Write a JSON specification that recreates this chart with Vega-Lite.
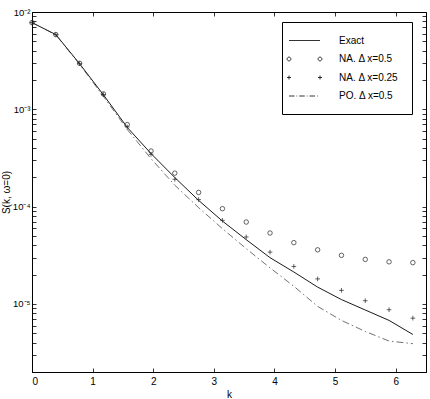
{
 "$schema": "https://vega.github.io/schema/vega-lite/v6.json",
 "width": 394, "height": 360,
 "autosize": {"type": "none"},
 "padding": {"left": 32, "top": 12, "right": 4, "bottom": 27},
 "config": {
  "font": "Liberation Sans",
  "view": {"stroke": "black", "strokeWidth": 1},
  "axis": {"domainColor": "black", "tickColor": "black", "labelColor": "black", "titleColor": "black", "labelFontSize": 10, "titleFontSize": 10, "titleFontWeight": "normal", "grid": false, "tickSize": -4, "tickWidth": 0.8, "domainWidth": 1, "labelFont": "Liberation Sans", "titleFont": "Liberation Sans"}
 },
 "data": {"values": [
  {"k": 0, "S": 0.00778, "series": "Exact"},
  {"k": 0.3927, "S": 0.00586, "series": "Exact"},
  {"k": 0.7854, "S": 0.00294, "series": "Exact"},
  {"k": 1.1781, "S": 0.00141, "series": "Exact"},
  {"k": 1.5708, "S": 0.000653, "series": "Exact"},
  {"k": 1.9635, "S": 0.000351, "series": "Exact"},
  {"k": 2.3562, "S": 0.000199, "series": "Exact"},
  {"k": 2.7489, "S": 0.000116, "series": "Exact"},
  {"k": 3.1416, "S": 0.0000711, "series": "Exact"},
  {"k": 3.5343, "S": 0.0000458, "series": "Exact"},
  {"k": 3.927, "S": 0.0000299, "series": "Exact"},
  {"k": 4.3197, "S": 0.0000213, "series": "Exact"},
  {"k": 4.7124, "S": 0.0000149, "series": "Exact"},
  {"k": 5.1051, "S": 0.0000111, "series": "Exact"},
  {"k": 5.4978, "S": 0.00000867, "series": "Exact"},
  {"k": 5.8905, "S": 0.00000678, "series": "Exact"},
  {"k": 6.2832, "S": 0.00000486, "series": "Exact"},
  {"k": 0, "S": 0.00778, "series": "NA. Δ x=0.5"},
  {"k": 0.3927, "S": 0.00586, "series": "NA. Δ x=0.5"},
  {"k": 0.7854, "S": 0.00297, "series": "NA. Δ x=0.5"},
  {"k": 1.1781, "S": 0.00144, "series": "NA. Δ x=0.5"},
  {"k": 1.5708, "S": 0.000697, "series": "NA. Δ x=0.5"},
  {"k": 1.9635, "S": 0.000373, "series": "NA. Δ x=0.5"},
  {"k": 2.3562, "S": 0.000221, "series": "NA. Δ x=0.5"},
  {"k": 2.7489, "S": 0.00014, "series": "NA. Δ x=0.5"},
  {"k": 3.1416, "S": 0.0000953, "series": "NA. Δ x=0.5"},
  {"k": 3.5343, "S": 0.0000695, "series": "NA. Δ x=0.5"},
  {"k": 3.927, "S": 0.0000536, "series": "NA. Δ x=0.5"},
  {"k": 4.3197, "S": 0.0000427, "series": "NA. Δ x=0.5"},
  {"k": 4.7124, "S": 0.000036, "series": "NA. Δ x=0.5"},
  {"k": 5.1051, "S": 0.0000316, "series": "NA. Δ x=0.5"},
  {"k": 5.4978, "S": 0.0000287, "series": "NA. Δ x=0.5"},
  {"k": 5.8905, "S": 0.0000271, "series": "NA. Δ x=0.5"},
  {"k": 6.2832, "S": 0.0000266, "series": "NA. Δ x=0.5"},
  {"k": 0, "S": 0.00778, "series": "NA. Δ x=0.25"},
  {"k": 0.3927, "S": 0.00586, "series": "NA. Δ x=0.25"},
  {"k": 0.7854, "S": 0.00295, "series": "NA. Δ x=0.25"},
  {"k": 1.1781, "S": 0.00142, "series": "NA. Δ x=0.25"},
  {"k": 1.5708, "S": 0.000658, "series": "NA. Δ x=0.25"},
  {"k": 1.9635, "S": 0.000345, "series": "NA. Δ x=0.25"},
  {"k": 2.3562, "S": 0.000191, "series": "NA. Δ x=0.25"},
  {"k": 2.7489, "S": 0.000118, "series": "NA. Δ x=0.25"},
  {"k": 3.1416, "S": 0.0000723, "series": "NA. Δ x=0.25"},
  {"k": 3.5343, "S": 0.0000488, "series": "NA. Δ x=0.25"},
  {"k": 3.927, "S": 0.0000341, "series": "NA. Δ x=0.25"},
  {"k": 4.3197, "S": 0.0000243, "series": "NA. Δ x=0.25"},
  {"k": 4.7124, "S": 0.0000181, "series": "NA. Δ x=0.25"},
  {"k": 5.1051, "S": 0.0000138, "series": "NA. Δ x=0.25"},
  {"k": 5.4978, "S": 0.0000108, "series": "NA. Δ x=0.25"},
  {"k": 5.8905, "S": 0.00000873, "series": "NA. Δ x=0.25"},
  {"k": 6.2832, "S": 0.00000715, "series": "NA. Δ x=0.25"},
  {"k": 0, "S": 0.00778, "series": "PO. Δ x=0.5"},
  {"k": 0.3927, "S": 0.00583, "series": "PO. Δ x=0.5"},
  {"k": 0.7854, "S": 0.0029, "series": "PO. Δ x=0.5"},
  {"k": 1.1781, "S": 0.00136, "series": "PO. Δ x=0.5"},
  {"k": 1.5708, "S": 0.000622, "series": "PO. Δ x=0.5"},
  {"k": 1.9635, "S": 0.000311, "series": "PO. Δ x=0.5"},
  {"k": 2.3562, "S": 0.000166, "series": "PO. Δ x=0.5"},
  {"k": 2.7489, "S": 0.0000977, "series": "PO. Δ x=0.5"},
  {"k": 3.1416, "S": 0.0000594, "series": "PO. Δ x=0.5"},
  {"k": 3.5343, "S": 0.000037, "series": "PO. Δ x=0.5"},
  {"k": 3.927, "S": 0.0000235, "series": "PO. Δ x=0.5"},
  {"k": 4.3197, "S": 0.0000152, "series": "PO. Δ x=0.5"},
  {"k": 4.7124, "S": 0.00000945, "series": "PO. Δ x=0.5"},
  {"k": 5.1051, "S": 0.00000678, "series": "PO. Δ x=0.5"},
  {"k": 5.4978, "S": 0.00000522, "series": "PO. Δ x=0.5"},
  {"k": 5.8905, "S": 0.00000416, "series": "PO. Δ x=0.5"},
  {"k": 6.2832, "S": 0.00000391, "series": "PO. Δ x=0.5"}
 ]},
 "resolve": {"axis": {"x": "independent", "y": "independent"}},
 "layer": [
  {
   "transform": [{"filter": "datum.series === 'Exact'"}],
   "mark": {"type": "line", "color": "black", "strokeWidth": 0.9},
   "encoding": {
    "x": {"field": "k", "type": "quantitative", "scale": {"domain": [0, 6.5], "nice": false, "zero": false},
          "axis": {"orient": "bottom", "values": [0, 1, 2, 3, 4, 5, 6], "title": "k", "labelPadding": 8, "titlePadding": 3, "labelColor": "#000000", "titleColor": "#000000"}},
    "y": {"field": "S", "type": "quantitative", "scale": {"type": "log", "domain": [0.000002, 0.01], "nice": false},
          "axis": {"orient": "left", "title": "S(k, ω=0)", "labelPadding": 6, "labelFontSize": 9.5, "titleX": -26, "titleBaseline": "middle", "labelColor": "#000000", "titleColor": "#000000",
                   "values": [0.000002, 0.000003, 0.000004, 0.000005, 0.000006, 0.000007, 0.000008, 0.000009, 0.00001, 0.00002, 0.00003, 0.00004, 0.00005, 0.00006, 0.00007, 0.00008, 0.00009, 0.0001, 0.0002, 0.0003, 0.0004, 0.0005, 0.0006, 0.0007, 0.0008, 0.0009, 0.001, 0.002, 0.003, 0.004, 0.005, 0.006, 0.007, 0.008, 0.009, 0.01],
                   "labelExpr": "datum.value === 0.01 ? '10⁻²' : datum.value === 0.001 ? '10⁻³' : datum.value === 0.0001 ? '10⁻⁴' : datum.value === 0.00001 ? '10⁻⁵' : ''"}}
   }
  },
  {
   "transform": [{"filter": "datum.series === 'PO. Δ x=0.5'"}],
   "mark": {"type": "line", "color": "#333333", "strokeWidth": 0.7, "strokeDash": [7, 3, 1.5, 3]},
   "encoding": {
    "x": {"field": "k", "type": "quantitative", "axis": null},
    "y": {"field": "S", "type": "quantitative", "axis": null}
   }
  },
  {
   "transform": [{"filter": "datum.series === 'NA. Δ x=0.5'"}],
   "mark": {"type": "point", "shape": "circle", "filled": false, "color": "#222222", "size": 20, "strokeWidth": 0.7, "opacity": 1},
   "encoding": {
    "x": {"field": "k", "type": "quantitative", "axis": null},
    "y": {"field": "S", "type": "quantitative", "axis": null}
   }
  },
  {
   "transform": [{"filter": "datum.series === 'NA. Δ x=0.25'"}],
   "mark": {"type": "point", "shape": "M-1,0H1M0,-1V1", "filled": false, "color": "#222222", "size": 22, "strokeWidth": 0.7, "opacity": 1},
   "encoding": {
    "x": {"field": "k", "type": "quantitative", "axis": null},
    "y": {"field": "S", "type": "quantitative", "axis": null}
   }
  },
  {
   "mark": {"type": "point", "filled": false, "color": "black", "opacity": 0, "strokeWidth": 0.8},
   "encoding": {
    "x": {"field": "k", "type": "quantitative",
          "axis": {"orient": "top", "values": [1, 2, 3, 4, 5, 6], "labels": false, "title": null, "domain": false}},
    "y": {"field": "S", "type": "quantitative",
          "axis": {"orient": "right", "labels": false, "title": null, "domain": false,
                   "values": [0.000002, 0.000003, 0.000004, 0.000005, 0.000006, 0.000007, 0.000008, 0.000009, 0.00001, 0.00002, 0.00003, 0.00004, 0.00005, 0.00006, 0.00007, 0.00008, 0.00009, 0.0001, 0.0002, 0.0003, 0.0004, 0.0005, 0.0006, 0.0007, 0.0008, 0.0009, 0.001, 0.002, 0.003, 0.004, 0.005, 0.006, 0.007, 0.008, 0.009, 0.01]}},
    "shape": {"field": "series", "type": "nominal",
              "scale": {"domain": ["Exact", "NA. Δ x=0.5", "NA. Δ x=0.25", "PO. Δ x=0.5"],
                        "range": ["M-3.1,0H3.1",
                                  "M-2.72,0A0.38,0.38 0 1,0 -3.48,0A0.38,0.38 0 1,0 -2.72,0M3.48,0A0.38,0.38 0 1,0 2.72,0A0.38,0.38 0 1,0 3.48,0",
                                  "M-3.5,0H-2.7M-3.1,-0.4V0.4M2.7,0H3.5M3.1,-0.4V0.4",
                                  "M-3.1,0H-2.0M-1.6,0H-1.45M-1.05,0H0.05M0.45,0H0.6M1.0,0H2.1M2.5,0H2.65"]},
              "legend": {"orient": "none", "legendX": 250, "legendY": 10, "title": null, "strokeColor": "black", "fillColor": "white", "cornerRadius": 0, "padding": 13, "labelFontSize": 10, "labelFont": "Liberation Sans", "labelColor": "black", "symbolSize": 100, "symbolStrokeWidth": 0.8, "symbolStrokeColor": "black", "symbolFillColor": "transparent", "symbolOpacity": 1, "rowPadding": 7.5, "labelOffset": 29, "symbolOffset": 4,
                         "labelExpr": "datum.label + '  '",
                         "encode": {"symbols": {"update": {"opacity": {"value": 1}, "fill": {"value": "transparent"}, "stroke": {"value": "black"}, "strokeWidth": {"value": 0.8}}}}}}
   }
  }
 ]
}
